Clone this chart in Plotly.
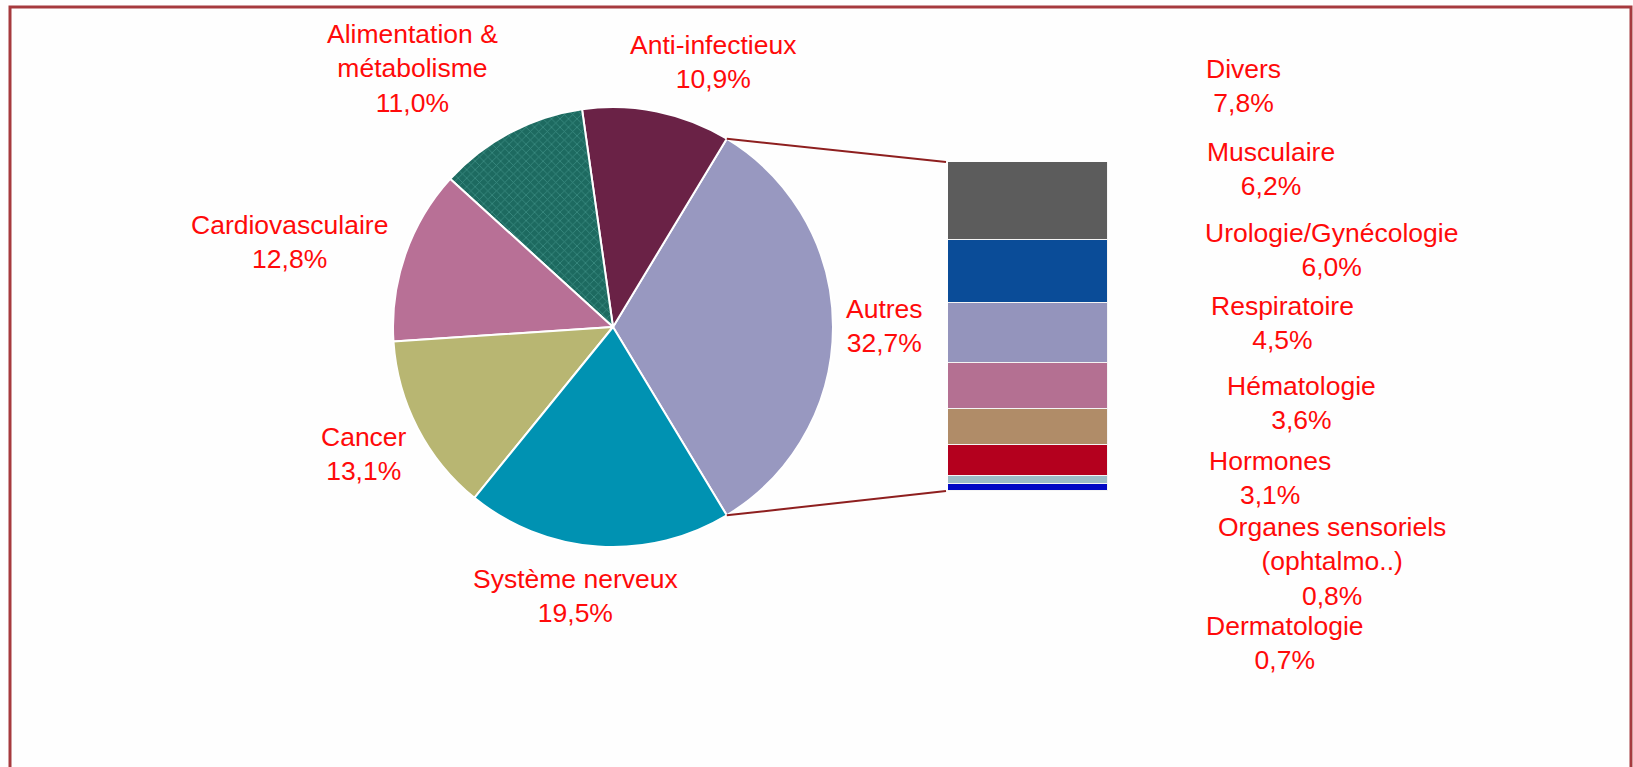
import math
import plotly.graph_objects as go

# ---- data -------------------------------------------------------------
# main pie: "Autres" is broken down in the bar on the right
pie_labels = ["Autres", "Anti-infectieux", "Alimentation &<br>métabolisme",
              "Cardiovasculaire", "Cancer", "Système nerveux"]
pie_values = [32.7, 10.9, 11.0, 12.8, 13.1, 19.5]

# detail of "Autres", listed from top of the bar to bottom
bar_labels = ["Divers", "Musculaire", "Urologie/Gynécologie", "Respiratoire",
              "Hématologie", "Hormones", "Organes sensoriels<br>(ophtalmo..)",
              "Dermatologie"]
bar_values = [7.8, 6.2, 6.0, 4.5, 3.6, 3.1, 0.8, 0.7]

# ---- styles -----------------------------------------------------------
pie_colors = ["#9898c0", "#6a2246", "#1d6a60", "#b87096", "#b8b672", "#0092b2"]
bar_colors = ["#5c5c5c", "#0a4c98", "#9494bc", "#b47092", "#b08c68",
              "#b4001e", "#9cbcc6", "#0008c4"]

W, H = 1633, 767
PIE_CX, PIE_CY, PIE_R = 613, 327, 220          # pixels
BAR_LEFT, BAR_RIGHT, BAR_TOP, BAR_BOTTOM = 948, 1108, 162, 491
FONT = "Arial, Liberation Sans, sans-serif"
FONT_SIZE = 26.5
RED = "#ff0a0a"
CONNECT = "#8e1f1f"

# label anchor points (pixel centres)
pie_label_pos = {
    "Autres": (884, 326),
    "Anti-infectieux": (713, 62),
    "Alimentation &<br>métabolisme": (413, 68),
    "Cardiovasculaire": (289, 242),
    "Cancer": (364, 454),
    "Système nerveux": (575, 596),
}
bar_label_pos = {
    "Divers": (1243, 86),
    "Musculaire": (1271, 169),
    "Urologie/Gynécologie": (1331, 250),
    "Respiratoire": (1282, 323),
    "Hématologie": (1301, 403),
    "Hormones": (1270, 478),
    "Organes sensoriels<br>(ophtalmo..)": (1332, 561),
    "Dermatologie": (1285, 643),
}


def px(x):
    return x / W


def py(y):
    return 1 - y / H


def pct(v):
    return f"{v:.1f}".replace(".", ",") + "%"


fig = go.Figure()

# ---- pie --------------------------------------------------------------
# with a counterclockwise direction the first slice ends at `rotation`
# (clockwise from 12 o'clock), so this centres "Autres" on 3 o'clock
share_autres = pie_values[0] / sum(pie_values)
fig.add_trace(go.Pie(
    labels=pie_labels,
    values=pie_values,
    sort=False,
    direction="counterclockwise",
    rotation=90 - share_autres * 180,
    textinfo="none",
    hoverinfo="label+percent",
    marker=dict(
        colors=pie_colors,
        line=dict(color="white", width=2),
        pattern=dict(
            shape=["", "", "x", "", "", ""],
            fgcolor=["#000000", "#000000", "#3c8c82", "#000000", "#000000", "#000000"],
            bgcolor=pie_colors,
            size=6,
            solidity=0.25,
            fillmode="replace",
        ),
    ),
    domain=dict(x=[px(PIE_CX - PIE_R), px(PIE_CX + PIE_R)],
                y=[py(PIE_CY + PIE_R), py(PIE_CY - PIE_R)]),
    showlegend=False,
))

# ---- stacked bar (bottom segment first) -------------------------------
for lab, val, col in reversed(list(zip(bar_labels, bar_values, bar_colors))):
    fig.add_trace(go.Bar(
        x=[0], y=[val], width=[1],
        name=lab.replace("<br>", " "),
        marker=dict(color=col, line=dict(color="#f4f4f4", width=1.5)),
        hovertemplate=lab.replace("<br>", " ") + ": " + pct(val) + "<extra></extra>",
        showlegend=False,
    ))

bar_total = sum(bar_values)
fig.update_layout(
    barmode="stack",
    xaxis=dict(domain=[px(BAR_LEFT), px(BAR_RIGHT)], range=[-0.5, 0.5],
               visible=False, fixedrange=True),
    yaxis=dict(domain=[py(BAR_BOTTOM), py(BAR_TOP)], range=[0, bar_total],
               visible=False, fixedrange=True),
)

# ---- connector lines from the "Autres" slice edges to the bar ---------
half_angle = math.radians(share_autres * 180)
edge_x = PIE_CX + PIE_R * math.cos(half_angle)
edge_dy = PIE_R * math.sin(half_angle)
shapes = []
for sign, bar_y in ((-1, BAR_TOP), (1, BAR_BOTTOM)):
    shapes.append(dict(
        type="line", xref="paper", yref="paper",
        x0=px(edge_x), y0=py(PIE_CY + sign * edge_dy),
        x1=px(BAR_LEFT - 2), y1=py(bar_y),
        line=dict(color=CONNECT, width=2),
    ))

# outer frame (open at the bottom edge of the view)
shapes.append(dict(
    type="rect", xref="paper", yref="paper",
    x0=px(10), x1=px(1631), y0=-0.05, y1=py(7),
    line=dict(color="#a63a3e", width=3), fillcolor="rgba(0,0,0,0)",
    layer="below",
))

# ---- labels -----------------------------------------------------------
annotations = []
for labs, vals, pos in ((pie_labels, pie_values, pie_label_pos),
                        (bar_labels, bar_values, bar_label_pos)):
    for lab, val in zip(labs, vals):
        x, y = pos[lab]
        annotations.append(dict(
            x=px(x), y=py(y), xref="paper", yref="paper",
            text=f"{lab}<br>{pct(val)}", showarrow=False, align="center",
            xanchor="center", yanchor="middle",
            font=dict(family=FONT, size=FONT_SIZE, color=RED),
        ))

fig.update_layout(
    width=W, height=H, autosize=False,
    margin=dict(l=0, r=0, t=0, b=0),
    paper_bgcolor="#fefefe", plot_bgcolor="rgba(0,0,0,0)",
    shapes=shapes, annotations=annotations,
    bargap=0,
)

fig.write_html("out.html")
